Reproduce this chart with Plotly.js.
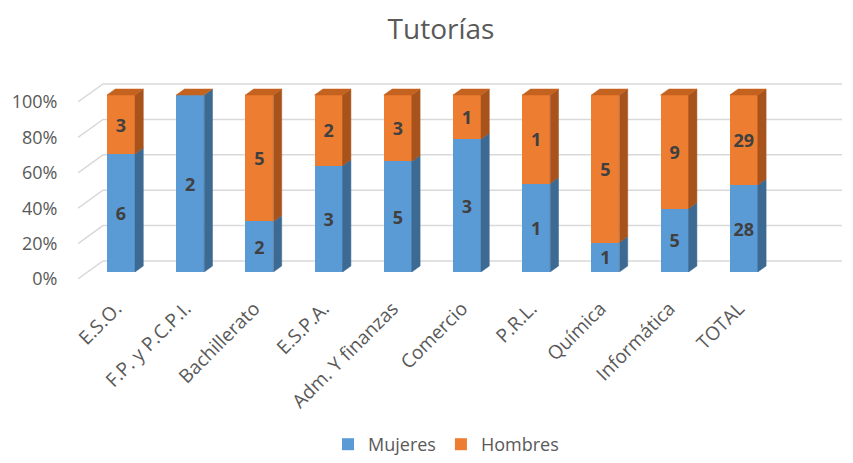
<!DOCTYPE html>
<html>
<head>
<meta charset="utf-8">
<script src="https://cdn.plot.ly/plotly-3.0.1.min.js"></script>
<style>html,body{margin:0;padding:0;background:#fff;}#chart{width:853px;height:463px;}</style>
</head>
<body>
<div id="chart"></div>
<script>
// ---- data ----
const categories = ['E.S.O.', 'F.P. y P.C.P.I.', 'Bachillerato', 'E.S.P.A.', 'Adm. Y finanzas', 'Comercio', 'P.R.L.', 'Química', 'Informática', 'TOTAL'];
const mujeres = [6, 2, 2, 3, 5, 3, 1, 1, 5, 28];
const hombres = [3, 0, 5, 2, 3, 1, 1, 5, 9, 29];
const yTicks = [0, 20, 40, 60, 80, 100];
const yTickLabels = ['0%', '20%', '40%', '60%', '80%', '100%'];

// ---- geometry / style ----
const W = 853, H = 463;
const FONT = 'Open Sans, Lato, sans-serif';
const pxPerPct = 1.77;
const frontZero = 279;     // px of 0% on front plane (tick labels)
const barZero = 272;       // px of 0% on bars' front faces
const plotLeft = 78, plotRight = 842;
const wallDX = 25, wallDYpx = 18;   // depth of left wall
const firstCenter = 121, catStep = 69.2;
const barW = 0.405;
const sideDX = 8.3 / catStep, sideDY = 6 / pxPerPct;

const colBlue = '#5B9BD5', colOrange = '#ED7D31';
const colBlueSide = '#3D6A93', colOrangeSide = '#A8531C', colOrangeTop = '#C4621F';

function fy(px) { return (H - px) / H; }
function fx(px) { return px / W; }

// grid subplot (front plane coords)
const gRange = [-2, 112];
const gDomain = [fy(frontZero - gRange[0] * pxPerPct), fy(frontZero - gRange[1] * pxPerPct)];
// bar subplot
const bRange = [0, 110];
const bDomain = [fy(barZero - bRange[0] * pxPerPct), fy(barZero - bRange[1] * pxPerPct)];
const xDomain = [fx(plotLeft), fx(plotRight)];
const x2Range = [(plotLeft - firstCenter) / catStep, (plotRight - firstCenter) / catStep];

// gridlines: left wall diagonal + back wall line
const backOff = wallDYpx / pxPerPct;
const gx = [], gy = [];
yTicks.forEach(v => {
  gx.push(plotLeft, plotLeft + wallDX, plotRight, null);
  gy.push(v, v + backOff, v + backOff, null);
});

const idx = categories.map((_, i) => i);
const pctM = mujeres.map((m, i) => 100 * m / (m + hombres[i]));

// 3D faces
const sbx = [], sby = [], sox = [], soy = [], tx = [], ty = [];
idx.forEach(i => {
  const xl = i - barW / 2, xr = i + barW / 2;
  const pm = pctM[i];
  if (pm > 0) {
    sbx.push(xr, xr + sideDX, xr + sideDX, xr, xr, null);
    sby.push(0, sideDY, pm + sideDY, pm, 0, null);
  }
  if (pm < 100) {
    sox.push(xr, xr + sideDX, xr + sideDX, xr, xr, null);
    soy.push(pm, pm + sideDY, 100 + sideDY, 100, pm, null);
  }
  tx.push(xl, xl + sideDX, xr + sideDX, xr, xl, null);
  ty.push(100, 100 + sideDY, 100 + sideDY, 100, 100, null);
});

function face(x, y, c) {
  return {type: 'scatter', mode: 'lines', x: x, y: y, xaxis: 'x2', yaxis: 'y2',
    fill: 'toself', fillcolor: c, line: {color: c, width: 0.5},
    showlegend: false, hoverinfo: 'skip'};
}

const labelFont = {family: FONT, size: 18, color: '#404040', weight: 'bold'};
const traces = [
  {type: 'scatter', mode: 'lines', x: gx, y: gy, xaxis: 'x', yaxis: 'y',
   line: {color: '#D9D9D9', width: 1.5}, showlegend: false, hoverinfo: 'skip', connectgaps: false},
  {type: 'bar', name: 'Mujeres', x: idx, y: mujeres, xaxis: 'x2', yaxis: 'y2', width: barW,
   marker: {color: colBlue}, text: mujeres.map(v => v ? String(v) : ''),
   textposition: 'inside', insidetextanchor: 'middle', textangle: 0, textfont: labelFont,
   constraintext: 'none', hoverinfo: 'skip'},
  {type: 'bar', name: 'Hombres', x: idx, y: hombres, xaxis: 'x2', yaxis: 'y2', width: barW,
   marker: {color: colOrange}, text: hombres.map(v => v ? String(v) : ''),
   textposition: 'inside', insidetextanchor: 'middle', textangle: 0, textfont: labelFont,
   constraintext: 'none', hoverinfo: 'skip'},
  face(sbx, sby, colBlueSide),
  face(sox, soy, colOrangeSide),
  face(tx, ty, colOrangeTop)
];

const layout = {
  width: W, height: H,
  margin: {l: 0, r: 0, t: 0, b: 0, autoexpand: false},
  paper_bgcolor: '#ffffff', plot_bgcolor: 'rgba(0,0,0,0)',
  barmode: 'stack', barnorm: 'percent',
  font: {family: FONT, color: '#595959'},
  title: {text: 'Tutorías', x: fx(441), xanchor: 'center', y: fy(29), yref: 'container', yanchor: 'middle',
          font: {family: FONT, size: 28, color: '#595959'}},
  xaxis: {domain: xDomain, range: [plotLeft, plotRight], visible: false, fixedrange: true},
  yaxis: {domain: gDomain, range: gRange, showgrid: false, zeroline: false, showline: false,
          tickvals: yTicks, ticktext: yTickLabels, ticks: 'outside', ticklen: 16,
          tickcolor: 'rgba(0,0,0,0)', tickfont: {family: FONT, size: 18, color: '#595959'}},
  xaxis2: {domain: xDomain, range: x2Range, anchor: 'y2', showgrid: false, zeroline: false,
           showline: false, tickvals: idx, ticktext: categories, tickangle: -45,
           ticks: 'outside', ticklen: 17, tickcolor: 'rgba(0,0,0,0)', ticklabelshift: -5,
           tickfont: {family: FONT, size: 19, color: '#595959'}},
  yaxis2: {domain: bDomain, range: bRange, anchor: 'x2', visible: false},
  showlegend: true,
  legend: {orientation: 'h', x: fx(446), xanchor: 'center', y: 0, yanchor: 'bottom',
           font: {family: FONT, size: 18, color: '#595959'}, traceorder: 'normal'}
};

Plotly.newPlot('chart', traces, layout, {staticPlot: true, displayModeBar: false});
</script>
</body>
</html>
